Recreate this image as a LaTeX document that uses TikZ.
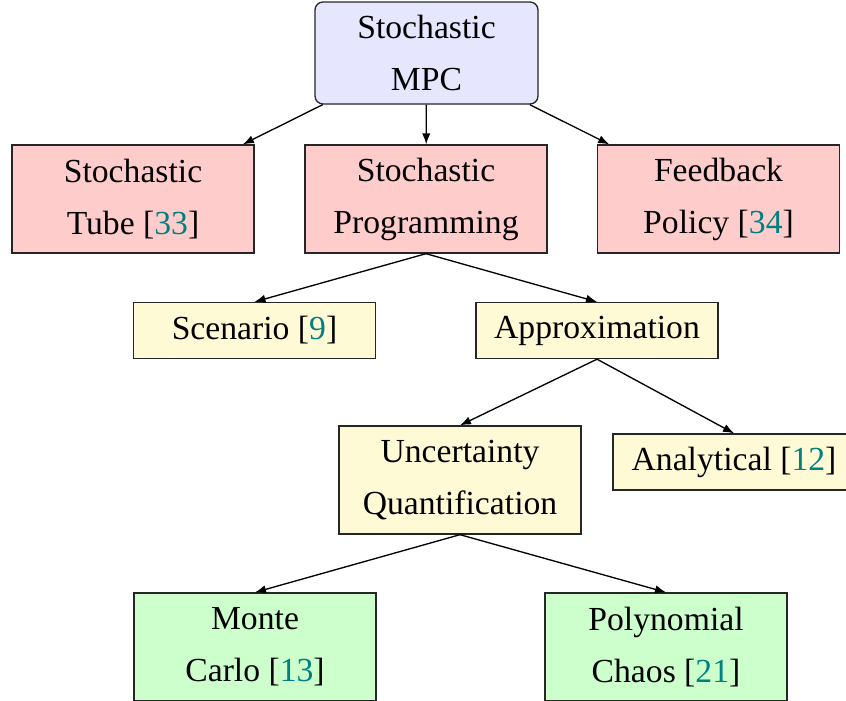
\documentclass[tikz,border=0pt]{standalone}
\usepackage{fontspec}
\setmainfont{Liberation Serif}
\usetikzlibrary{arrows.meta}
\definecolor{citec}{rgb}{0,0.5,0.5}
\definecolor{mpcfill}{rgb}{0.902,0.902,1}
\definecolor{redfill}{rgb}{1,0.8,0.8}
\definecolor{yelfill}{rgb}{1,0.98,0.84}
\definecolor{grnfill}{rgb}{0.8,1,0.8}
\newcommand{\cit}[1]{[\textcolor{citec}{#1}]}
\begin{document}
\begin{tikzpicture}[x=0.3pt,y=-0.3pt,
  box/.style={draw=black!85, line width=0.4pt, minimum width=72.6pt, inner sep=0pt,
    align=center, font=\fontsize{10.1}{15.6}\selectfont},
  two/.style={box, minimum height=32.4pt},
  one/.style={box, minimum height=16.8pt},
  arr/.style={line width=0.4pt, -{Latex[length=3.3pt,width=2.5pt]}}]
\useasboundingbox (0,0) rectangle (846,700);
\node[box, fill=mpcfill, rounded corners=2.4pt, minimum width=66.9pt, minimum height=30.6pt] (mpc) at (426.5,53) {Stochastic\\MPC};
\node[two, fill=redfill] (tube) at (133,199) {Stochastic\\Tube \cit{33}};
\node[two, fill=redfill] (prog) at (426,199) {Stochastic\\Programming};
\node[two, fill=redfill] (feed) at (718.5,199) {Feedback\\Policy \cit{34}};
\node[one, fill=yelfill] (scen) at (254.5,330.5) {Scenario \cit{9}};
\node[one, fill=yelfill] (appr) at (597,330.5) {Approximation};
\node[two, fill=yelfill] (unc) at (460,480) {Uncertainty\\Quantification};
\node[one, fill=yelfill] (anal) at (734,462) {Analytical \cit{12}};
\node[two, fill=grnfill] (mc) at (255,647) {Monte\\Carlo \cit{13}};
\node[two, fill=grnfill] (pc) at (666,647) {Polynomial\\Chaos \cit{21}};
\draw[arr] (mpc) -- (tube);
\draw[arr] (mpc) -- (prog);
\draw[arr] (mpc) -- (feed);
\draw[arr] (prog.south) -- (scen.north);
\draw[arr] (prog.south) -- (appr.north);
\draw[arr] (appr.south) -- (unc.north);
\draw[arr] (appr.south) -- (anal.north);
\draw[arr] (unc.south) -- (mc.north);
\draw[arr] (unc.south) -- (pc.north);
\end{tikzpicture}
\end{document}
